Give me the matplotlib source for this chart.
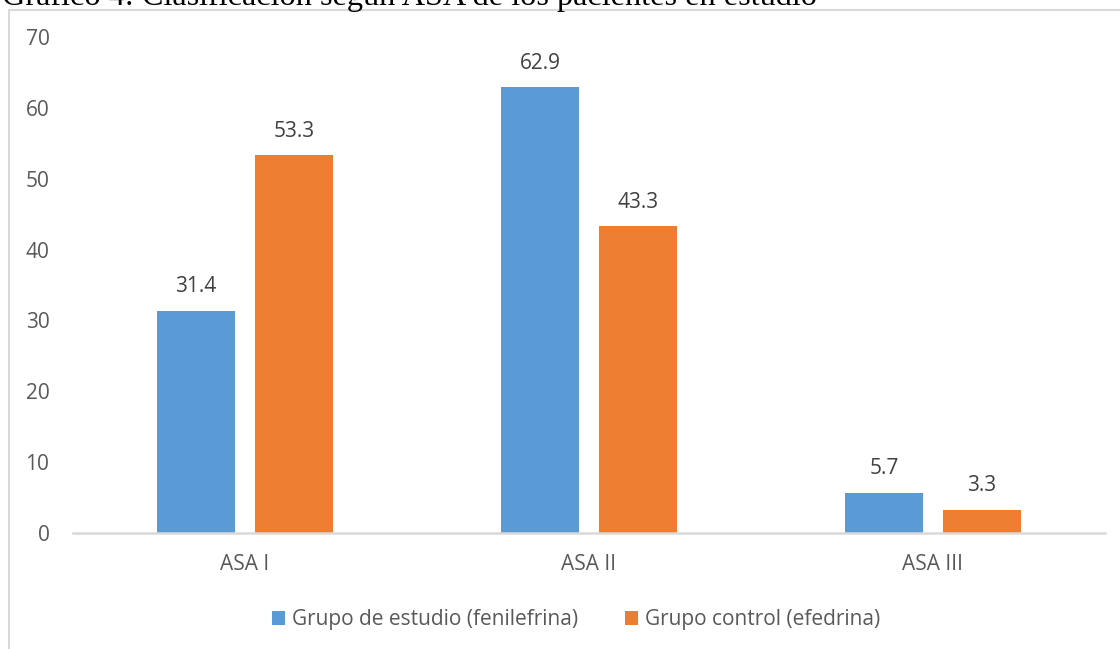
import matplotlib
matplotlib.use("Agg")
import matplotlib.pyplot as plt
from matplotlib.patches import Rectangle
import numpy as np

categories = ["ASA I", "ASA II", "ASA III"]
series_names = ["Grupo de estudio (fenilefrina)", "Grupo control (efedrina)"]
estudio = [31.4, 62.9, 5.7]
control = [53.3, 43.3, 3.3]
yticks = [0, 10, 20, 30, 40, 50, 60, 70]
title = "Gráfico 4: Clasificación según ASA de los pacientes en estudio"

BLUE = "#5B9BD5"
ORANGE = "#ED7D31"
GRAY = "#595959"
W, H = 1120, 649
plt.rcParams['font.family'] = ['Open Sans', 'DejaVu Sans']
fig = plt.figure(figsize=(W / 100, H / 100), dpi=100)

# chart border (light gray) extending beyond the image
fig.patches.append(Rectangle((8.5 / W, -0.1), 1.2, 1 - 10 / H + 0.1, transform=fig.transFigure,
                             fill=False, edgecolor="#D9D9D9", linewidth=1.5))

# cropped title (as in the reference, only its lower part is visible)
fig.text(2 / W, 1 - 5 / H, title, family=['Liberation Serif'], fontsize=23.2,
         color="black", ha="left", va="baseline")

ax = fig.add_axes([73 / W, 1 - 533 / H, (1105 - 73) / W, (533 - 37) / H])
x = np.arange(len(categories))
bw = 0.224
off = (bw + 0.061) / 2
b1 = ax.bar(x - off, estudio, bw, color=BLUE, label=series_names[0])
b2 = ax.bar(x + off, control, bw, color=ORANGE, label=series_names[1])
for bars in (b1, b2):
    for r in bars:
        ax.annotate(f"{r.get_height():.1f}", (r.get_x() + r.get_width() / 2, r.get_height()),
                    xytext=(0, 9.5), textcoords="offset points", ha="center", va="bottom",
                    fontsize=15, color="#404040")

ax.set_xlim(-0.5, 2.5)
ax.set_ylim(0, 70)
ax.set_yticks(yticks)
ax.set_xticks(x)
ax.set_xticklabels(categories)
for s in ["top", "right", "left"]:
    ax.spines[s].set_visible(False)
ax.spines["bottom"].set_color("#D9D9D9")
ax.spines["bottom"].set_linewidth(1.8)
ax.tick_params(axis="both", length=0, labelsize=15, labelcolor=GRAY)
ax.tick_params(axis="y", pad=17)
ax.tick_params(axis="x", pad=15)
ax.set_facecolor("none")

leg = fig.legend(handles=[b1, b2], labels=series_names, loc="center",
                 bbox_to_anchor=(576 / W, 1 - 620 / H), ncol=2, frameon=False,
                 fontsize=15, handlelength=0.63, handleheight=0.63, handletextpad=0.34,
                 columnspacing=2.25, labelcolor=GRAY)

fig.savefig("out.png", dpi=100)
